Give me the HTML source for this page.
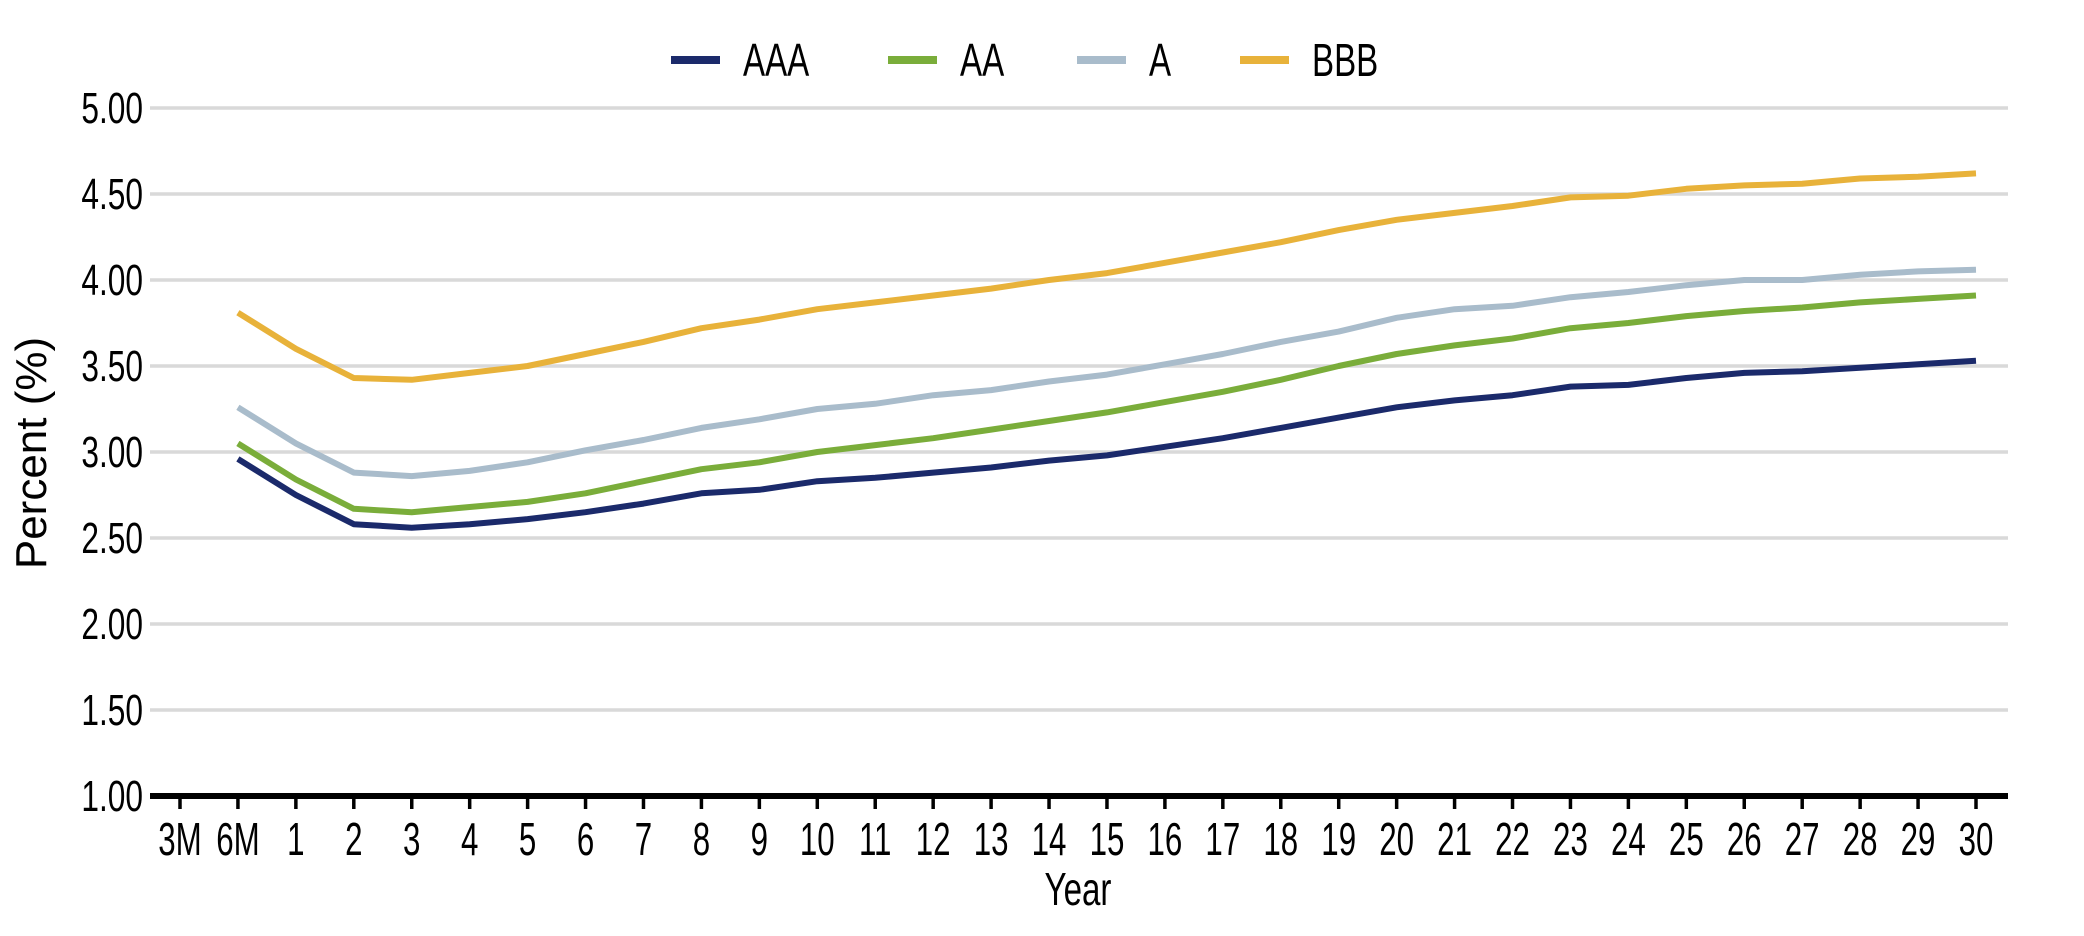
<!DOCTYPE html>
<html><head><meta charset="utf-8">
<style>
html,body{margin:0;padding:0;background:#fff;}
svg{display:block;font-family:"Liberation Sans",sans-serif;}
</style></head>
<body>
<svg id="chart" width="2084" height="936" viewBox="0 0 2084 936" xmlns="http://www.w3.org/2000/svg">
<g id="grid"></g>
<g id="yticks"></g>
<g id="series"></g>
<g id="xaxis"></g>
<text x="1078" y="905" font-size="46" text-anchor="middle" transform="translate(1078,0) scale(0.72,1) translate(-1078,0)">Year</text>
<text transform="translate(46,453) rotate(-90)" font-size="44" text-anchor="middle">Percent (%)</text>
<g id="legend"></g>
</svg>
<script>
const categories = ["3M","6M","1","2","3","4","5","6","7","8","9","10","11","12","13","14","15","16","17","18","19","20","21","22","23","24","25","26","27","28","29","30"];
const yTicks = [1.00,1.50,2.00,2.50,3.00,3.50,4.00,4.50,5.00];
const seriesNames = ["AAA","AA","A","BBB"];
const seriesColors = ["#1b2a6b","#7aad3a","#a9bccb","#e8b23a"];
const aaa = [null,2.96,2.75,2.58,2.56,2.58,2.61,2.65,2.70,2.76,2.78,2.83,2.85,2.88,2.91,2.95,2.98,3.03,3.08,3.14,3.20,3.26,3.30,3.33,3.38,3.39,3.43,3.46,3.47,3.49,3.51,3.53];
const aa = [null,3.05,2.84,2.67,2.65,2.68,2.71,2.76,2.83,2.90,2.94,3.00,3.04,3.08,3.13,3.18,3.23,3.29,3.35,3.42,3.50,3.57,3.62,3.66,3.72,3.75,3.79,3.82,3.84,3.87,3.89,3.91];
const a = [null,3.26,3.05,2.88,2.86,2.89,2.94,3.01,3.07,3.14,3.19,3.25,3.28,3.33,3.36,3.41,3.45,3.51,3.57,3.64,3.70,3.78,3.83,3.85,3.90,3.93,3.97,4.00,4.00,4.03,4.05,4.06];
const bbb = [null,3.81,3.60,3.43,3.42,3.46,3.50,3.57,3.64,3.72,3.77,3.83,3.87,3.91,3.95,4.00,4.04,4.10,4.16,4.22,4.29,4.35,4.39,4.43,4.48,4.49,4.53,4.55,4.56,4.59,4.60,4.62];
const seriesData = [aaa,aa,a,bbb];

const NS="http://www.w3.org/2000/svg";
const plotL=150, plotR=2008, x0=180, x1=1976, yMin=1, yMax=5, yBot=796, yTop=108;
function xScale(i){return x0+(x1-x0)*i/(categories.length-1);}
function yScale(v){return yBot-(v-yMin)/(yMax-yMin)*(yBot-yTop);}
function mk(tag,attrs,parent){const e=document.createElementNS(NS,tag);for(const k in attrs)e.setAttribute(k,attrs[k]);parent.appendChild(e);return e;}

const grid=document.getElementById('grid'), yt=document.getElementById('yticks');
yTicks.forEach(v=>{
  if(v!==yMin){
    const l=mk('line',{x1:plotL,x2:plotR,y1:yScale(v),y2:yScale(v),stroke:'#d9d9d9','stroke-width':3.5},grid);
    
    
  }
  const y=yScale(v);
  const t=mk('text',{x:143,y:y+15,'font-size':44,'text-anchor':'end',transform:`translate(143,0) scale(0.72,1) translate(-143,0)`},yt);
  t.textContent=v.toFixed(2);
  
  
});

const sg=document.getElementById('series');
seriesData.forEach((d,si)=>{
  const pts=[];
  d.forEach((v,i)=>{if(v!==null)pts.push(xScale(i).toFixed(1)+','+yScale(v).toFixed(1));});
  const p=mk('polyline',{points:pts.join(' '),fill:'none',stroke:seriesColors[si],'stroke-width':6,'stroke-linejoin':'round'},sg);
  
  
});

const xa=document.getElementById('xaxis');
const ax=mk('line',{x1:plotL,x2:plotR,y1:yBot,y2:yBot,stroke:'#000','stroke-width':6},xa);


categories.forEach((c,i)=>{
  const x=xScale(i);
  const tk=mk('line',{x1:x,x2:x,y1:yBot,y2:yBot+13,stroke:'#000','stroke-width':3.5},xa);
  
  
  const t=mk('text',{x:x,y:855,'font-size':46,'text-anchor':'middle',transform:`translate(${x},0) scale(0.68,1) translate(${-x},0)`},xa);
  t.textContent=c;
  
  
});

const lg=document.getElementById('legend');
const legX=[671,888,1077,1240];
seriesNames.forEach((n,i)=>{
  const g=mk('g',{},lg);
  
  
  mk('line',{x1:legX[i],x2:legX[i]+49,y1:60,y2:60,stroke:seriesColors[i],'stroke-width':8},g);
  const tx=legX[i]+72;
  const t=mk('text',{x:tx,y:76,'font-size':46,transform:`translate(${tx},0) scale(0.72,1) translate(${-tx},0)`},g);
  t.textContent=n;
});
</script>
</body></html>
